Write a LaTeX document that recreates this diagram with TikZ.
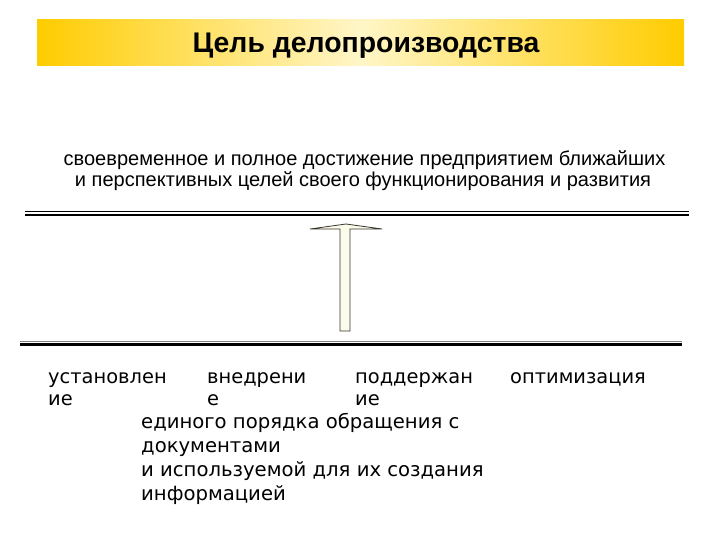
\documentclass[tikz,border=0pt]{standalone}
\usepackage{fontspec}
\setmainfont{Liberation Sans}
\newfontfamily\dvs{DejaVu Sans}
\definecolor{gold}{HTML}{FFCC00}
\definecolor{paleyellow}{HTML}{FFF6C8}
\definecolor{ivory}{HTML}{FCFCEC}
\tikzset{
  rule/.style={line width=3pt, black},
  thinrule/.style={line width=0.8pt, black},
  word/.style={anchor=base west, inner sep=0pt, font=\dvs\fontsize{19.5}{21}\selectfont},
  objline/.style={anchor=base west, inner sep=0pt, font=\dvs\fontsize{19.7}{25}\selectfont},
  goalline/.style={anchor=base, inner sep=0pt, font=\fontsize{20.1}{23}\selectfont},
}
\begin{document}
\begin{tikzpicture}[x=1bp,y=-1bp]
\useasboundingbox (0,0) rectangle (720,540);
% banner
\shade[left color=gold, right color=gold, middle color=paleyellow] (37,20) rectangle (684,66);
\node[anchor=base, inner sep=0pt] (title) at (366,53) {\fontsize{28.5}{32}\selectfont\bfseries Цель делопроизводства};
% goal text
\node[goalline] (goal1) at (364.5,166) {своевременное и полное достижение предприятием ближайших};
\node[goalline] (goal2) at (363,187) {и перспективных целей своего функционирования и развития};
% rules
\coordinate (t1) at (25,211); \coordinate (t2) at (689,211);
\draw[thinrule] (t1) -- (t2);
\draw[rule] (25,215) -- (689,215);
\coordinate (b1) at (20,341); \coordinate (b2) at (682,341);
\draw[thinrule, gray] (b1) -- (b2);
\draw[rule] (20,344.5) -- (682,344.5);
% block arrow
\draw[fill=ivory, draw=black!80!olive, line width=0.8pt]
  (340,331) -- (340,229) -- (310,229) -- (346,224) -- (382,229) -- (350,229) -- (350,331) -- cycle;
% words
\node[word] (w1a) at (48,383) {установлен};
\node[word] (w1b) at (48,405) {ие};
\node[word] (w2a) at (207,383) {внедрени};
\node[word] (w2b) at (207,405) {е};
\node[word] (w3a) at (355,383) {поддержан};
\node[word] (w3b) at (355,405) {ие};
\node[word] (w4) at (510,383) {оптимизация};
\node[objline] (o1) at (141,428) {единого порядка обращения с};
\node[objline] (o2) at (141,452) {документами};
\node[objline] (o3) at (141,476) {и используемой для их создания};
\node[objline] (o4) at (141,500) {информацией};
\end{tikzpicture}
\end{document}
